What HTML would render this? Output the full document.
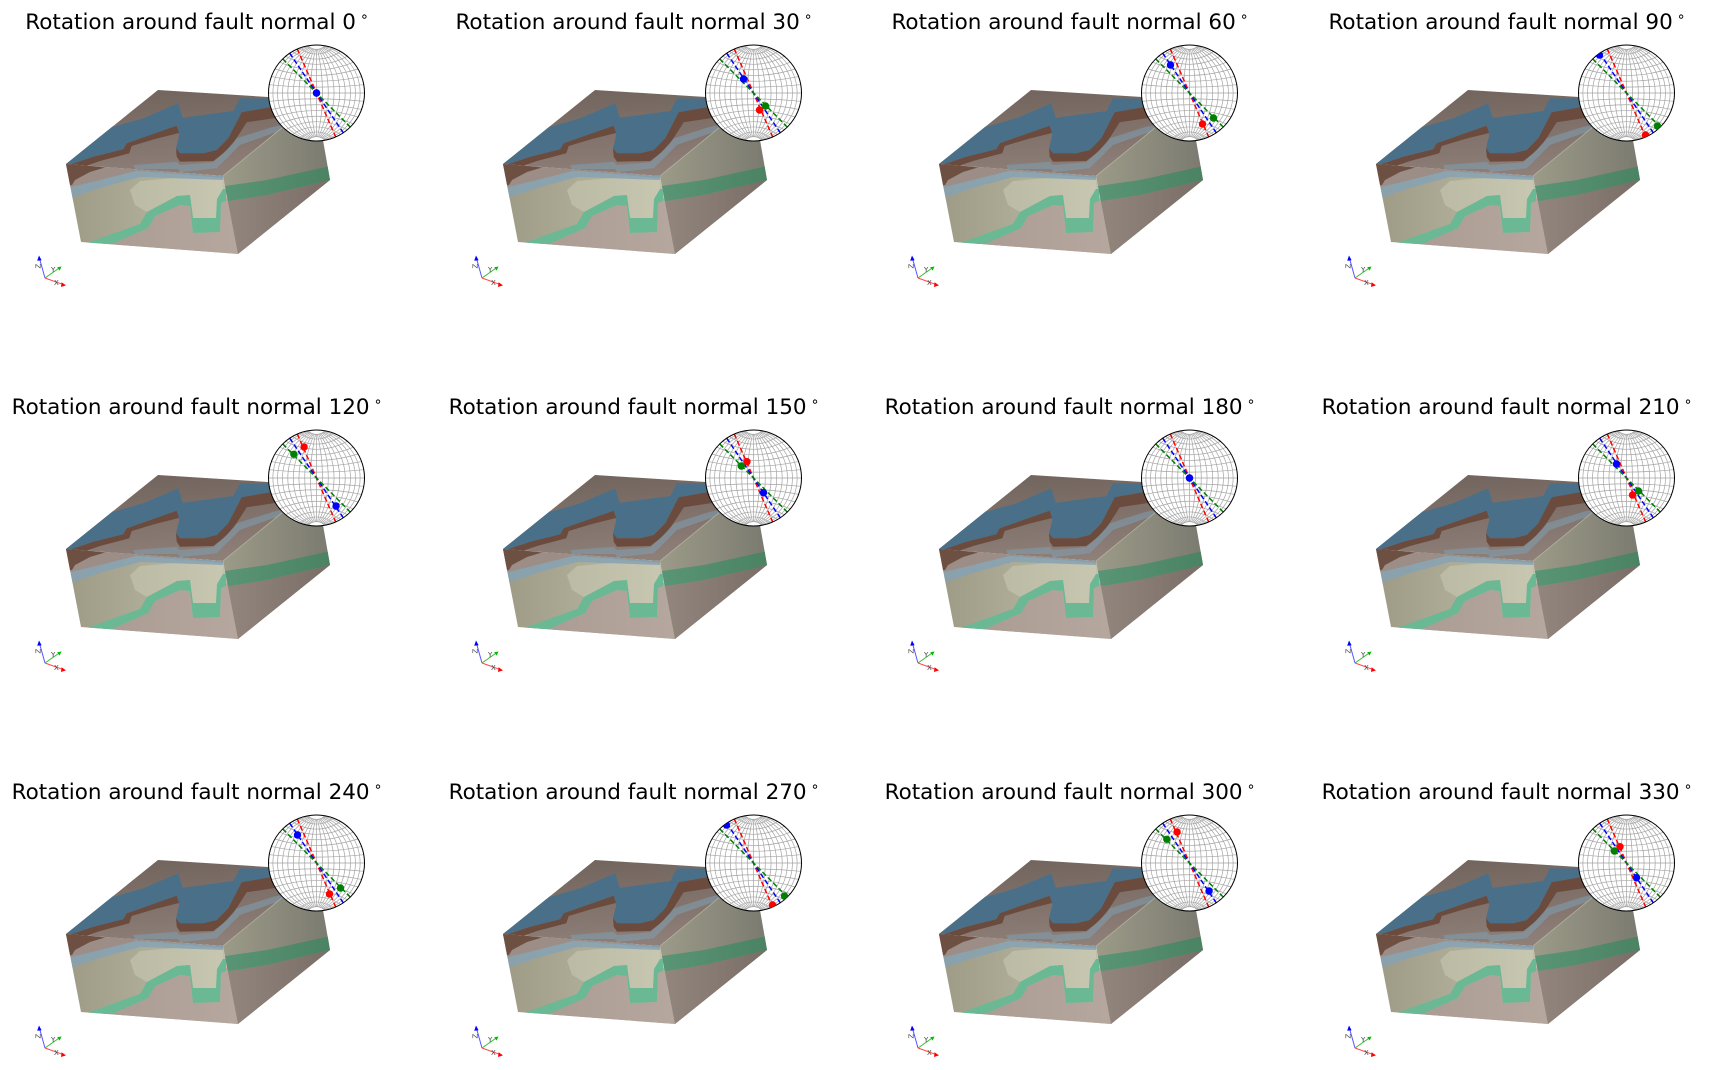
<!DOCTYPE html>
<html><head><meta charset="utf-8">
<style>html,body{margin:0;padding:0;background:#fff;width:1709px;height:1070px;overflow:hidden}svg{display:block}</style>
</head><body>
<svg xmlns="http://www.w3.org/2000/svg" xmlns:xlink="http://www.w3.org/1999/xlink" width="1709" height="1070" viewBox="0 0 1709 1070">
<defs>
<linearGradient id="gTop" x1="0.2" y1="0" x2="0.4" y2="1"><stop offset="0" stop-color="#71645d"/><stop offset="1" stop-color="#8e7f78"/></linearGradient>
<linearGradient id="gFront" x1="0" y1="0" x2="1" y2="0"><stop offset="0" stop-color="#9d9a86"/><stop offset="0.6" stop-color="#b3b29c"/><stop offset="1" stop-color="#c4c4ae"/></linearGradient>
<linearGradient id="gRight" x1="0" y1="0" x2="1" y2="0"><stop offset="0" stop-color="#9c9b88"/><stop offset="1" stop-color="#7b7a70"/></linearGradient>
<linearGradient id="gGreenR" x1="0" y1="0" x2="1" y2="0"><stop offset="0" stop-color="#5a9677"/><stop offset="1" stop-color="#4a8262"/></linearGradient>
<linearGradient id="gRLow" x1="0" y1="0" x2="1" y2="0"><stop offset="0" stop-color="#94887f"/><stop offset="1" stop-color="#786c66"/></linearGradient>
<linearGradient id="gPink" x1="0" y1="0" x2="1" y2="0"><stop offset="0" stop-color="#a89a91"/><stop offset="1" stop-color="#b6a89f"/></linearGradient>
<clipPath id="cTop"><polygon points="66,164 158,90 316,100 223,176"/></clipPath>
<clipPath id="cFront"><polygon points="66,164 223,176 238,254 81,242"/></clipPath>
<clipPath id="cRight"><polygon points="223,176 316,100 330,180 238,254"/></clipPath>
<clipPath id="nc"><circle cx="0" cy="0" r="48"/></clipPath>

<g id="block">
  <polygon points="66,164 158,90 316,100 223,176" fill="url(#gTop)"/>
  <g clip-path="url(#cTop)">
    <polygon fill="#4a7089" points="60,168 110,122 113.3,126.7 143.3,118.3 178.3,103.3 182.7,117.7 203.3,115 233.3,111 240,98.3 320,99 320,106 273.3,106.7 241.7,112.3 228.3,138.3 216.7,150 203.3,153.3 180,153.3 176,148.3 179.3,135 176.7,125.7 126.7,143.3 123.3,149.3 93.3,156.7"/>
    <polygon fill="#6b4b3d" points="60,168 93.3,156.7 123.3,149.3 126.7,143.3 176.7,125.7 179,133 155,139 131.7,146 129.3,153.3 100,161 60,175"/>
    <polygon fill="#6b4b3d" points="176,148.3 180,153.3 203.3,153.3 216.7,150 228.3,138.3 241.7,112.3 273.3,106.7 320,105 320,115 273.3,118.3 246.7,122.3 233.3,143.3 223.3,153.3 213.3,161 180,161.7 176.7,156.7"/>
    <polygon fill="#7ea2b8" opacity="0.5" points="133.3,165 176.7,161.7 180,165 213.3,162.3 226.7,150 236.7,138.3 273.3,126.7 320,117 320,124 273.3,133.3 240,145 228.3,156.7 216.7,168.3 180,172.3 178.3,169 135,169"/>
  </g>
  <polygon points="66,164 223,176 238,254 81,242" fill="url(#gFront)"/>
  <g clip-path="url(#cFront)">
    <polygon fill="url(#gPink)" points="75,250 112,244 148,228 155,216 180,205 190,206 193,233 220,232 221,201 230,196 245,260 75,260"/>
    <polygon fill="#d0d0ba" opacity="0.45" points="140,181 175,178 223,180 223,190 217,199 216,218 193,218 190,195 177,196 147,212 135,205 130,190"/>
    <polygon fill="#9c8d86" points="62,163 223,176 223,178 137,171 100,180 66,189 62,189"/>
    <polygon fill="#6e5043" points="62,163 105,167.5 90,172 75,180 72,185 62,186"/>
    <polygon fill="#84a3b5" opacity="0.8" points="62,189 100,180 137,170.5 223,176 223,180 140,177 100,188 62,201"/>
    <polygon fill="#6ab894" points="84,244 140,224 147,212 177,196 190,195 193,218 216,218 217,199 223,189 226,189 226,201 221,203 220,232 193,233 190,206 180,205 155,216 148,228 112,244"/>
  </g>
  <polygon points="223,176 316,100 330,180 238,254" fill="url(#gRight)"/>
  <g clip-path="url(#cRight)">
    <polygon fill="url(#gGreenR)" points="218,187 267,180 335,165 335,179 267,195 218,203"/>
    <polygon fill="url(#gRLow)" points="218,203 267,195 335,179 335,262 218,262"/>
  </g>
  <line x1="223" y1="176" x2="316" y2="100" stroke="#b8b8a6" stroke-width="0.9" opacity="0.7"/>
</g>

<g id="net">
  <circle r="48" fill="#fff"/>
  <g fill="none" stroke="#a4a4a4" stroke-width="0.7">
    <path d="M0,-48V48M-48,0H48"/>
    <path d="M0,-48A197.6,197.6 0 0 1 0,48M0,-48A103.6,103.6 0 0 1 0,48M0,-48A74.35,74.35 0 0 1 0,48M0,-48A61.23,61.23 0 0 1 0,48M0,-48A54.49,54.49 0 0 1 0,48M0,-48A50.91,50.91 0 0 1 0,48M0,-48A49.06,49.06 0 0 1 0,48M0,-48A48.22,48.22 0 0 1 0,48"/>
    <path d="M0,-48A197.6,197.6 0 0 0 0,48M0,-48A103.6,103.6 0 0 0 0,48M0,-48A74.35,74.35 0 0 0 0,48M0,-48A61.23,61.23 0 0 0 0,48M0,-48A54.49,54.49 0 0 0 0,48M0,-48A50.91,50.91 0 0 0 0,48M0,-48A49.06,49.06 0 0 0 0,48M0,-48A48.22,48.22 0 0 0 0,48"/>
  </g>
  <path fill="#fff" d="M-8.33,-47.27A11.38,11.38 0 0 0 8.33,-47.27A48,48 0 0 0 -8.33,-47.27ZM-8.33,47.27A11.38,11.38 0 0 1 8.33,47.27A48,48 0 0 1 -8.33,47.27Z"/>
  <g fill="none" stroke="#a4a4a4" stroke-width="0.7">
    <path d="M-47.27,-8.33A464,464 0 0 0 47.27,-8.33M-45.1,-16.42A222.1,222.1 0 0 0 45.1,-16.42M-41.57,-24A137.5,137.5 0 0 0 41.57,-24M-36.77,-30.85A92.35,92.35 0 0 0 36.77,-30.85M-30.85,-36.77A62.98,62.98 0 0 0 30.85,-36.77M-24,-41.57A41.57,41.57 0 0 0 24,-41.57M-16.42,-45.1A24.9,24.9 0 0 0 16.42,-45.1M-8.33,-47.27A11.38,11.38 0 0 0 8.33,-47.27"/>
    <path d="M-47.27,8.33A464,464 0 0 1 47.27,8.33M-45.1,16.42A222.1,222.1 0 0 1 45.1,16.42M-41.57,24A137.5,137.5 0 0 1 41.57,24M-36.77,30.85A92.35,92.35 0 0 1 36.77,30.85M-30.85,36.77A62.98,62.98 0 0 1 30.85,36.77M-24,41.57A41.57,41.57 0 0 1 24,41.57M-16.42,45.1A24.9,24.9 0 0 1 16.42,45.1M-8.33,47.27A11.38,11.38 0 0 1 8.33,47.27"/>
  </g>
  <g clip-path="url(#nc)" fill="none" stroke-width="1.5" stroke-dasharray="5 2.6">
    <path stroke="#ff0000" d="M-19.2,-44L19.2,44"/>
    <path stroke="#0000ff" d="M-26.8,-39.8L26.8,39.8"/>
    <path stroke="#008000" d="M-33.8,-34.1L33.8,34.1"/>
  </g>
  <circle r="48" fill="none" stroke="#000" stroke-width="1"/>
</g>

<g id="dA" clip-path="url(#nc)"><circle r="3.7" fill="#f00"/><circle r="3.7" fill="#008000"/><circle r="3.7" fill="#00f"/></g>
<g id="dB" clip-path="url(#nc)"><circle cx="6" cy="17" r="3.7" fill="#f00"/><circle cx="12" cy="13" r="3.7" fill="#008000"/><circle cx="-10" cy="-14" r="3.7" fill="#00f"/></g>
<g id="dC" clip-path="url(#nc)"><circle cx="13" cy="31" r="3.7" fill="#f00"/><circle cx="24" cy="25" r="3.7" fill="#008000"/><circle cx="-19" cy="-28" r="3.7" fill="#00f"/></g>
<g id="dD" clip-path="url(#nc)"><circle cx="19" cy="42" r="3.7" fill="#f00"/><circle cx="31" cy="33" r="3.7" fill="#008000"/><circle cx="-27" cy="-38" r="3.7" fill="#00f"/></g>
<g id="dE" clip-path="url(#nc)"><circle cx="-12.4" cy="-31" r="3.7" fill="#f00"/><circle cx="-22.7" cy="-23.7" r="3.7" fill="#008000"/><circle cx="19.6" cy="28" r="3.7" fill="#00f"/></g>
<g id="dF" clip-path="url(#nc)"><circle cx="-6.5" cy="-16.3" r="3.7" fill="#f00"/><circle cx="-12.2" cy="-12" r="3.7" fill="#008000"/><circle cx="10" cy="14.7" r="3.7" fill="#00f"/></g>

<g id="triad">
  <path d="M45,278L39.8,259.5" stroke="#5555ff" stroke-width="1" fill="none"/>
  <path d="M45,278L58.5,268.5" stroke="#33bb33" stroke-width="1" fill="none"/>
  <path d="M45,278L62.5,284.3" stroke="#ff4444" stroke-width="1" fill="none"/>
  <polygon points="39,255.5 37.2,260.8 41.6,260.2" fill="#0000ff"/>
  <polygon points="61.5,266.5 57.2,267.3 59.6,270.6" fill="#00bb00"/>
  <polygon points="66,285.4 61.6,282.2 61,287" fill="#ff0000"/>
</g>
</defs>

<g font-family="DejaVu Sans, Liberation Sans, sans-serif">
<!-- Row 1 -->
<g transform="translate(0,0)">
  <use href="#block" xlink:href="#block"/>
  <g transform="translate(316.5,93)"><use href="#net" xlink:href="#net"/><use href="#dA" xlink:href="#dA"/></g>
  <use href="#triad" xlink:href="#triad"/>
  <text x="36" y="268" font-size="7" fill="#444" transform="rotate(-90 38.5 266)">Z</text><text x="51" y="272" font-size="7" fill="#444">Y</text><text x="54" y="285" font-size="7" fill="#444">X</text>
  <text x="197" y="29" font-size="21.5" text-anchor="middle" fill="#000">Rotation around fault normal 0<tspan dx="4" dy="-8" font-size="14">∘</tspan></text>
</g>
<g transform="translate(437,0)">
  <use href="#block" xlink:href="#block"/>
  <g transform="translate(316.5,93)"><use href="#net" xlink:href="#net"/><use href="#dB" xlink:href="#dB"/></g>
  <use href="#triad" xlink:href="#triad"/>
  <text x="36" y="268" font-size="7" fill="#444" transform="rotate(-90 38.5 266)">Z</text><text x="51" y="272" font-size="7" fill="#444">Y</text><text x="54" y="285" font-size="7" fill="#444">X</text>
  <text x="197" y="29" font-size="21.5" text-anchor="middle" fill="#000">Rotation around fault normal 30<tspan dx="4" dy="-8" font-size="14">∘</tspan></text>
</g>
<g transform="translate(873,0)">
  <use href="#block" xlink:href="#block"/>
  <g transform="translate(316.5,93)"><use href="#net" xlink:href="#net"/><use href="#dC" xlink:href="#dC"/></g>
  <use href="#triad" xlink:href="#triad"/>
  <text x="36" y="268" font-size="7" fill="#444" transform="rotate(-90 38.5 266)">Z</text><text x="51" y="272" font-size="7" fill="#444">Y</text><text x="54" y="285" font-size="7" fill="#444">X</text>
  <text x="197" y="29" font-size="21.5" text-anchor="middle" fill="#000">Rotation around fault normal 60<tspan dx="4" dy="-8" font-size="14">∘</tspan></text>
</g>
<g transform="translate(1310,0)">
  <use href="#block" xlink:href="#block"/>
  <g transform="translate(316.5,93)"><use href="#net" xlink:href="#net"/><use href="#dD" xlink:href="#dD"/></g>
  <use href="#triad" xlink:href="#triad"/>
  <text x="36" y="268" font-size="7" fill="#444" transform="rotate(-90 38.5 266)">Z</text><text x="51" y="272" font-size="7" fill="#444">Y</text><text x="54" y="285" font-size="7" fill="#444">X</text>
  <text x="197" y="29" font-size="21.5" text-anchor="middle" fill="#000">Rotation around fault normal 90<tspan dx="4" dy="-8" font-size="14">∘</tspan></text>
</g>
<!-- Row 2 -->
<g transform="translate(0,385)">
  <use href="#block" xlink:href="#block"/>
  <g transform="translate(316.5,93)"><use href="#net" xlink:href="#net"/><use href="#dE" xlink:href="#dE"/></g>
  <use href="#triad" xlink:href="#triad"/>
  <text x="36" y="268" font-size="7" fill="#444" transform="rotate(-90 38.5 266)">Z</text><text x="51" y="272" font-size="7" fill="#444">Y</text><text x="54" y="285" font-size="7" fill="#444">X</text>
  <text x="197" y="29" font-size="21.5" text-anchor="middle" fill="#000">Rotation around fault normal 120<tspan dx="4" dy="-8" font-size="14">∘</tspan></text>
</g>
<g transform="translate(437,385)">
  <use href="#block" xlink:href="#block"/>
  <g transform="translate(316.5,93)"><use href="#net" xlink:href="#net"/><use href="#dF" xlink:href="#dF"/></g>
  <use href="#triad" xlink:href="#triad"/>
  <text x="36" y="268" font-size="7" fill="#444" transform="rotate(-90 38.5 266)">Z</text><text x="51" y="272" font-size="7" fill="#444">Y</text><text x="54" y="285" font-size="7" fill="#444">X</text>
  <text x="197" y="29" font-size="21.5" text-anchor="middle" fill="#000">Rotation around fault normal 150<tspan dx="4" dy="-8" font-size="14">∘</tspan></text>
</g>
<g transform="translate(873,385)">
  <use href="#block" xlink:href="#block"/>
  <g transform="translate(316.5,93)"><use href="#net" xlink:href="#net"/><use href="#dA" xlink:href="#dA"/></g>
  <use href="#triad" xlink:href="#triad"/>
  <text x="36" y="268" font-size="7" fill="#444" transform="rotate(-90 38.5 266)">Z</text><text x="51" y="272" font-size="7" fill="#444">Y</text><text x="54" y="285" font-size="7" fill="#444">X</text>
  <text x="197" y="29" font-size="21.5" text-anchor="middle" fill="#000">Rotation around fault normal 180<tspan dx="4" dy="-8" font-size="14">∘</tspan></text>
</g>
<g transform="translate(1310,385)">
  <use href="#block" xlink:href="#block"/>
  <g transform="translate(316.5,93)"><use href="#net" xlink:href="#net"/><use href="#dB" xlink:href="#dB"/></g>
  <use href="#triad" xlink:href="#triad"/>
  <text x="36" y="268" font-size="7" fill="#444" transform="rotate(-90 38.5 266)">Z</text><text x="51" y="272" font-size="7" fill="#444">Y</text><text x="54" y="285" font-size="7" fill="#444">X</text>
  <text x="197" y="29" font-size="21.5" text-anchor="middle" fill="#000">Rotation around fault normal 210<tspan dx="4" dy="-8" font-size="14">∘</tspan></text>
</g>
<!-- Row 3 -->
<g transform="translate(0,770)">
  <use href="#block" xlink:href="#block"/>
  <g transform="translate(316.5,93)"><use href="#net" xlink:href="#net"/><use href="#dC" xlink:href="#dC"/></g>
  <use href="#triad" xlink:href="#triad"/>
  <text x="36" y="268" font-size="7" fill="#444" transform="rotate(-90 38.5 266)">Z</text><text x="51" y="272" font-size="7" fill="#444">Y</text><text x="54" y="285" font-size="7" fill="#444">X</text>
  <text x="197" y="29" font-size="21.5" text-anchor="middle" fill="#000">Rotation around fault normal 240<tspan dx="4" dy="-8" font-size="14">∘</tspan></text>
</g>
<g transform="translate(437,770)">
  <use href="#block" xlink:href="#block"/>
  <g transform="translate(316.5,93)"><use href="#net" xlink:href="#net"/><use href="#dD" xlink:href="#dD"/></g>
  <use href="#triad" xlink:href="#triad"/>
  <text x="36" y="268" font-size="7" fill="#444" transform="rotate(-90 38.5 266)">Z</text><text x="51" y="272" font-size="7" fill="#444">Y</text><text x="54" y="285" font-size="7" fill="#444">X</text>
  <text x="197" y="29" font-size="21.5" text-anchor="middle" fill="#000">Rotation around fault normal 270<tspan dx="4" dy="-8" font-size="14">∘</tspan></text>
</g>
<g transform="translate(873,770)">
  <use href="#block" xlink:href="#block"/>
  <g transform="translate(316.5,93)"><use href="#net" xlink:href="#net"/><use href="#dE" xlink:href="#dE"/></g>
  <use href="#triad" xlink:href="#triad"/>
  <text x="36" y="268" font-size="7" fill="#444" transform="rotate(-90 38.5 266)">Z</text><text x="51" y="272" font-size="7" fill="#444">Y</text><text x="54" y="285" font-size="7" fill="#444">X</text>
  <text x="197" y="29" font-size="21.5" text-anchor="middle" fill="#000">Rotation around fault normal 300<tspan dx="4" dy="-8" font-size="14">∘</tspan></text>
</g>
<g transform="translate(1310,770)">
  <use href="#block" xlink:href="#block"/>
  <g transform="translate(316.5,93)"><use href="#net" xlink:href="#net"/><use href="#dF" xlink:href="#dF"/></g>
  <use href="#triad" xlink:href="#triad"/>
  <text x="36" y="268" font-size="7" fill="#444" transform="rotate(-90 38.5 266)">Z</text><text x="51" y="272" font-size="7" fill="#444">Y</text><text x="54" y="285" font-size="7" fill="#444">X</text>
  <text x="197" y="29" font-size="21.5" text-anchor="middle" fill="#000">Rotation around fault normal 330<tspan dx="4" dy="-8" font-size="14">∘</tspan></text>
</g>
</g>
</svg>
</body></html>
